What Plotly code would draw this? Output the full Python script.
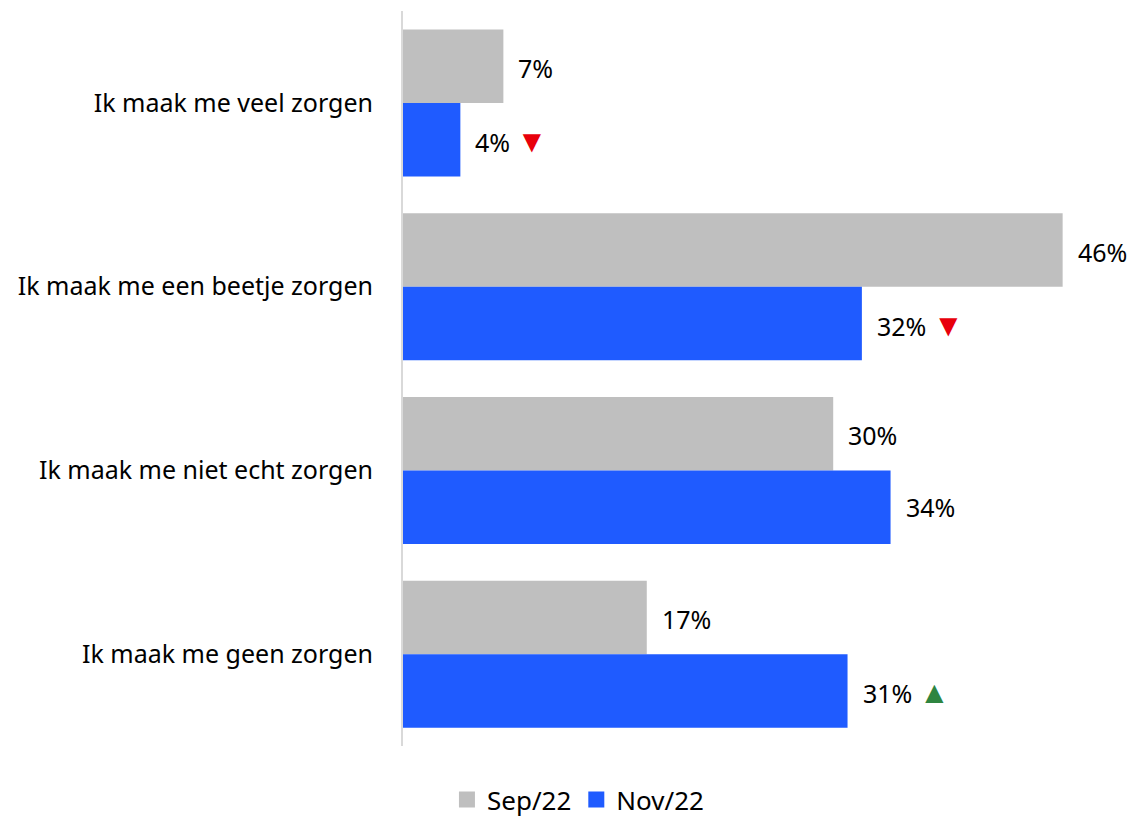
import plotly.graph_objects as go

# Data
categories = [
    "Ik maak me veel zorgen",
    "Ik maak me een beetje zorgen",
    "Ik maak me niet echt zorgen",
    "Ik maak me geen zorgen",
]
sep22 = [7, 46, 30, 17]
nov22 = [4, 32, 34, 31]
nov_trend = ["down", "down", "", "up"]

COLORS = {
    'sep': '#BFBFBF',
    'nov': '#1F5BFF',
    'down': '#E8000B',
    'up': '#2E8540',
    'text': '#000000',
    'axis': '#D9D9D9',
}
FONT = "Noto Sans"

fig = go.Figure()
for name, vals, col in [('Sep/22', sep22, COLORS['sep']), ('Nov/22', nov22, COLORS['nov'])]:
    fig.add_trace(go.Bar(
        y=categories, x=vals, orientation='h', name=name,
        marker=dict(color=col, line_width=0), showlegend=False,
    ))
    # legend entry with a bigger square swatch
    fig.add_trace(go.Scatter(
        x=[None], y=[None], mode='markers', name=name,
        marker=dict(symbol='square', size=16, color=col),
    ))

# value labels (with trend arrows for Nov/22)
arrow = "<span style='color:{};font-size:31px'>{}</span>"
for cat, s, n, t in zip(categories, sep22, nov22, nov_trend):
    fig.add_annotation(x=s, y=cat, text=f"{s}%", showarrow=False,
                       xanchor='left', xshift=13, yshift=35)
    txt = f"{n}%"
    if t == "down":
        txt += " " + arrow.format(COLORS['down'], "▼")
    elif t == "up":
        txt += " " + arrow.format(COLORS['up'], "▲")
    fig.add_annotation(x=n, y=cat, text=txt, showarrow=False,
                       xanchor='left', xshift=13, yshift=-37)

fig.update_layout(
    width=1135, height=818,
    margin=dict(l=395, r=23, t=3, b=75),
    paper_bgcolor='white', plot_bgcolor='white',
    font=dict(family=FONT, size=25, color=COLORS['text']),
    barmode='group', bargap=0.2, bargroupgap=0,
    showlegend=True,
    legend=dict(orientation='h', x=0.244, xanchor='center', y=-0.073,
                yanchor='middle', font=dict(size=26), itemwidth=30),
    xaxis=dict(range=[0, 50], visible=False),
    yaxis=dict(autorange='reversed', showline=True, linecolor=COLORS['axis'],
               linewidth=2, showgrid=False, ticks='', ticklabelstandoff=23,
               tickfont=dict(size=25)),
)

fig.write_html("out.html")
